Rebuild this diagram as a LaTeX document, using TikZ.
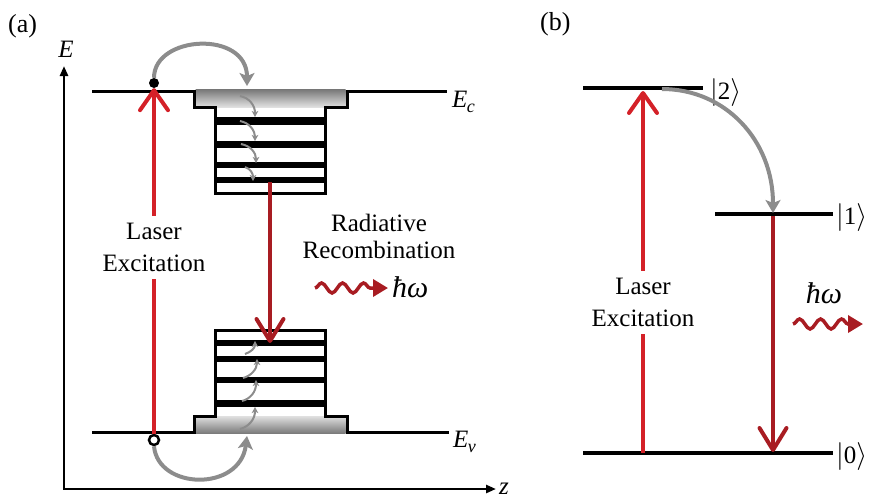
\documentclass[tikz,border=0pt]{standalone}
\usepackage{fontspec}
\setmainfont{Liberation Serif}
\usetikzlibrary{arrows.meta,decorations.pathmorphing}
\definecolor{laser}{RGB}{212,33,40}
\definecolor{recomb}{RGB}{168,28,34}
\definecolor{arcgray}{RGB}{140,140,140}
\begin{document}
\begin{tikzpicture}[x=1pt,y=-1pt,
  band/.style={line width=3pt, line join=miter},
  laserline/.style={draw=laser, line width=4pt},
  laserarr/.style={draw=laser, line width=4pt, -{Straight Barb[length=20pt,width=28pt,round]}},
  recarr/.style={draw=recomb, line width=4pt, -{Straight Barb[length=22pt,width=27pt,round]}},
  grayarc/.style={draw=arcgray, line width=4pt, -{Stealth[length=13pt,width=15pt,inset=3pt]}},
  smallarr/.style={draw=arcgray, line width=2pt, -{Stealth[length=6pt,width=6.5pt,inset=1.5pt]}},
  wave/.style={draw=recomb, line width=3.5pt, decorate,
    decoration={snake,amplitude=5pt,segment length=21pt,post length=14pt},
    -{Triangle[length=15pt,width=17pt]}},
  axis/.style={line width=2.5pt, line join=miter, {Triangle[length=10pt,width=8pt]}-{Triangle[length=10pt,width=8pt]}},
  level/.style={line width=4pt},
  txt/.style={font=\fontsize{25}{32}\selectfont, align=center, inner xsep=0pt, inner ysep=7pt},
  sym/.style={font=\fontsize{25}{30}\selectfont, inner sep=0pt},
  ket/.style={font=\fontsize{25}{30}\selectfont, inner sep=0pt, anchor=west},
  hw/.style={font=\fontsize{30}{32}\selectfont\itshape, inner sep=0pt},
  panel/.style={font=\fontsize{26}{30}\selectfont, inner sep=0pt, anchor=base west},
]
\newcommand{\myket}[1]{\scalebox{1.12}{$|$}#1\scalebox{1.12}{$\rangle$}}
\useasboundingbox (0,0) rectangle (872,499);

% ---------- panel labels ----------
\node[panel] (pa) at (8,32) {(a)};
\node[panel] (pb) at (540,30) {(b)};

% ---------- axes ----------
\coordinate (origin) at (64,489);
\coordinate (ytip) at (64,66);
\coordinate (xtip) at (496,489);
\draw[axis] (ytip) -- (origin) -- (xtip);
\node[sym, anchor=base] (Elab) at (66,57) {\itshape E};
\node[sym, anchor=base west] (zlab) at (499,494) {\itshape z};

% ---------- conduction well ----------
\coordinate (ecL) at (92,91);
\coordinate (ecR) at (447,91);
\shade[top color=black!52, bottom color=black!12] (195.5,89.8) rectangle (345.5,107);
\fill (215,116.5) rectangle (325,124.5);
\fill (215,140.5) rectangle (325,147.5);
\fill (215,162) rectangle (325,168);
\fill (215,177) rectangle (325,183);
\draw[band] (ecL) -- (194,91) -- (194,107) -- (215,107) -- (215,193) -- (325,193)
  -- (325,107) -- (347,107) -- (347,91) -- (ecR);
\node[sym, anchor=base west] (Ec) at (452,107) {\itshape E\kern-0.5pt\raisebox{-5pt}{\fontsize{18}{18}\selectfont c}};

% ---------- valence well ----------
\coordinate (evL) at (92,432);
\coordinate (evR) at (449,432);
\shade[top color=black!12, bottom color=black!52] (195.5,416) rectangle (345.5,433.2);
\fill (215,399.5) rectangle (325,406.5);
\fill (215,376.5) rectangle (325,382.5);
\fill (215,355.5) rectangle (325,361.5);
\fill (215,340) rectangle (325,346);
\draw[band] (evL) -- (194,432) -- (194,416) -- (215,416) -- (215,330) -- (325,330)
  -- (325,416) -- (347,416) -- (347,432) -- (evR);
\node[sym, anchor=base west] (Ev) at (453,447) {\itshape E\kern-0.5pt\raisebox{-5pt}{\fontsize{18}{18}\selectfont v}};

% ---------- small relaxation arrows ----------
\draw[smallarr] (240,96) .. controls (250,98) and (255,106) .. (255,117);
\draw[smallarr] (240,121) .. controls (250,123) and (255,131) .. (255,141);
\draw[smallarr] (241,144) .. controls (251,146) and (256,153) .. (256,163);
\draw[smallarr] (245,167) .. controls (251,169) and (253,174) .. (253,181);
\draw[smallarr] (240,429) .. controls (248,427) and (255,420) .. (255,407);
\draw[smallarr] (242,401) .. controls (250,399) and (256,392) .. (256,380);
\draw[smallarr] (243,378) .. controls (251,376) and (257,369) .. (257,359);
\draw[smallarr] (245,354) .. controls (251,352) and (255,348) .. (255,341);

% ---------- carriers ----------
\node[circle, fill=black, minimum size=10pt, inner sep=0pt] (electron) at (154,83) {};
\node[circle, draw=black, fill=white, line width=2.5pt, minimum size=10pt, inner sep=0pt] (hole) at (154,440) {};

% capture arcs
\coordinate (capC) at (247,86);
\coordinate (capV) at (247,436);
\draw[grayarc] (electron.north) .. controls (154,35) and (247,30) .. (capC);
\draw[grayarc] (hole.south) .. controls (158,490) and (240,492) .. (capV);

% laser excitation (a)
\node[txt] (laserA) at (154,247) {Laser\\Excitation};
\draw[laserline] (hole) -- (laserA);
\draw[laserarr] (laserA) -- (electron);

% radiative recombination (a)
\coordinate (recTop) at (270,182);
\coordinate (recBot) at (270,343);
\draw[recarr] (recTop) -- (recBot);
\node[font=\fontsize{25}{27}\selectfont, align=center, inner sep=0pt] (radrec) at (379,236) {Radiative\\Recombination};
\coordinate (waS) at (315,288);
\coordinate (waE) at (388,288);
\draw[wave] (waS) -- (waE);
\node[hw, anchor=west] (hwA) at (392,287) {ħω};

% ---------- panel (b) ----------
\coordinate (l2a) at (583,88); \coordinate (l2b) at (703,88);
\coordinate (l1a) at (715,214); \coordinate (l1b) at (833,214);
\coordinate (l0a) at (583,453); \coordinate (l0b) at (833,453);
\draw[level] (l2a) -- (l2b);
\draw[level] (l1a) -- (l1b);
\draw[level] (l0a) -- (l0b);
\node[ket] (k2) at (710,93) {\myket{2}};
\node[ket] (k1) at (836,218) {\myket{1}};
\node[ket] (k0) at (836,457) {\myket{0}};

\coordinate (exB) at (643,453);
\coordinate (exT) at (643,91);
\node[txt] (laserB) at (643,302) {Laser\\Excitation};
\draw[laserline] (exB) -- (laserB);
\draw[laserarr] (laserB) -- (exT);

\coordinate (relS) at (662,89);
\coordinate (relE) at (773,213);
\draw[grayarc] (relS) .. controls (725,89) and (773,140) .. (relE);

\coordinate (emT) at (773,216);
\coordinate (emB) at (773,452);
\draw[recarr] (emT) -- (emB);

\coordinate (wbS) at (793,324);
\coordinate (wbE) at (863,324);
\draw[wave] (wbS) -- (wbE);
\node[hw] (hwB) at (824,293) {ħω};
\end{tikzpicture}
\end{document}
